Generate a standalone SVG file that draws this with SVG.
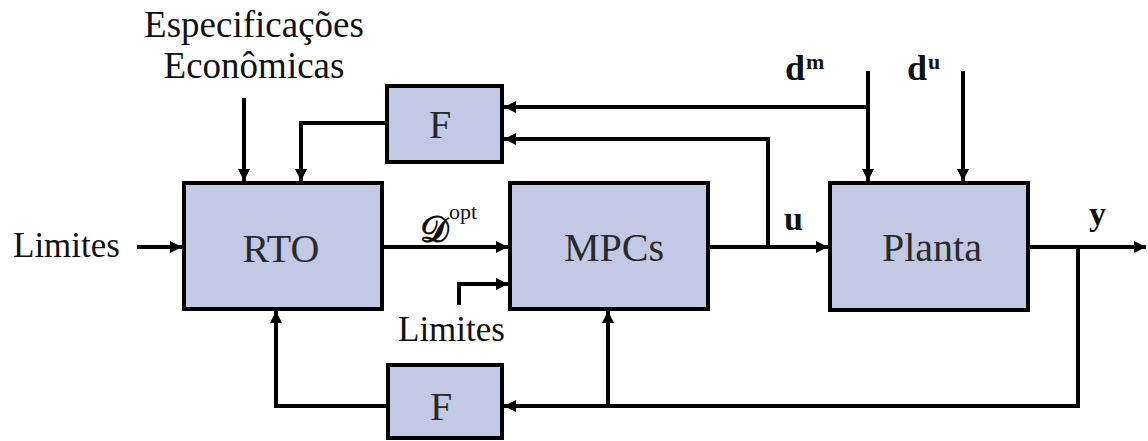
<svg xmlns="http://www.w3.org/2000/svg" width="1148" height="441" viewBox="0 0 1148 441">
<style>
.box{fill:#c1c9e4;stroke:#000;stroke-width:4}
.lbl{font-family:"Liberation Serif","Times New Roman",serif;font-size:40px;fill:#2a2a2a;text-anchor:middle}
.txt{font-family:"Liberation Serif","Times New Roman",serif;fill:#111}
.bold{font-family:"Liberation Serif","Times New Roman",serif;font-weight:bold;fill:#111}
.ln{fill:none;stroke:#000;stroke-width:4}
</style>
<defs>
<marker id="ah" markerUnits="userSpaceOnUse" markerWidth="14" markerHeight="12" refX="12" refY="6" orient="auto">
<path d="M0,0 L12,6 L0,12 z" fill="#000"/>
</marker>
</defs>
<g id="connectors">
<path class="ln" d="M137,247 H182" marker-end="url(#ah)"/>
<path class="ln" d="M244,98 V181" marker-end="url(#ah)"/>
<path class="ln" d="M385,123 H301 V181" marker-end="url(#ah)"/>
<path class="ln" d="M384,247 H508" marker-end="url(#ah)"/>
<path class="ln" d="M459,305 V284 H508" marker-end="url(#ah)"/>
<path class="ln" d="M710,247 H828" marker-end="url(#ah)"/>
<path class="ln" d="M768,247 V139 H504" marker-end="url(#ah)"/>
<path class="ln" d="M868,71 V181" marker-end="url(#ah)"/>
<path class="ln" d="M868,107 H504" marker-end="url(#ah)"/>
<path class="ln" d="M963,71 V181" marker-end="url(#ah)"/>
<path class="ln" d="M1030,247 H1146" marker-end="url(#ah)"/>
<path class="ln" d="M1078,247 V406 H504" marker-end="url(#ah)"/>
<path class="ln" d="M608,406 V311" marker-end="url(#ah)"/>
<path class="ln" d="M386,406 H276 V311" marker-end="url(#ah)"/>
</g>
<g id="rto">
<rect class="box" x="184" y="183" width="198" height="126"/>
<text class="lbl" x="281" y="262">RTO</text>
</g>
<g id="mpcs">
<rect class="box" x="510" y="183" width="198" height="126"/>
<text class="lbl" x="614" y="261">MPCs</text>
</g>
<g id="planta">
<rect class="box" x="830" y="183" width="198" height="127"/>
<text class="lbl" x="932" y="261">Planta</text>
</g>
<g id="f-top">
<rect class="box" x="387" y="86" width="115" height="76"/>
<text class="lbl" x="440" y="138">F</text>
</g>
<g id="f-bottom">
<rect class="box" x="388" y="365" width="114" height="73"/>
<text class="lbl" x="441" y="420">F</text>
</g>
<g id="labels">
<text class="txt" x="254" y="37" font-size="37" text-anchor="middle">Especificações</text>
<text class="txt" x="254" y="78" font-size="37" text-anchor="middle">Econômicas</text>
<text class="txt" x="13" y="257" font-size="35">Limites</text>
<text class="txt" x="398" y="341" font-size="35">Limites</text>
<text x="420" y="242" font-family="DejaVu Serif, serif" font-size="36" font-weight="bold" fill="#111">𝒟</text>
<text class="txt" x="449" y="219" font-size="22">opt</text>
<text class="bold" x="784" y="230" font-size="34">u</text>
<text class="bold" x="1089" y="225" font-size="34">y</text>
<text class="bold" x="785" y="80" font-size="36">d</text>
<text class="bold" x="806" y="69" font-size="22">m</text>
<text class="bold" x="907" y="80" font-size="36">d</text>
<text class="bold" x="928" y="69" font-size="22">u</text>
</g>
</svg>
